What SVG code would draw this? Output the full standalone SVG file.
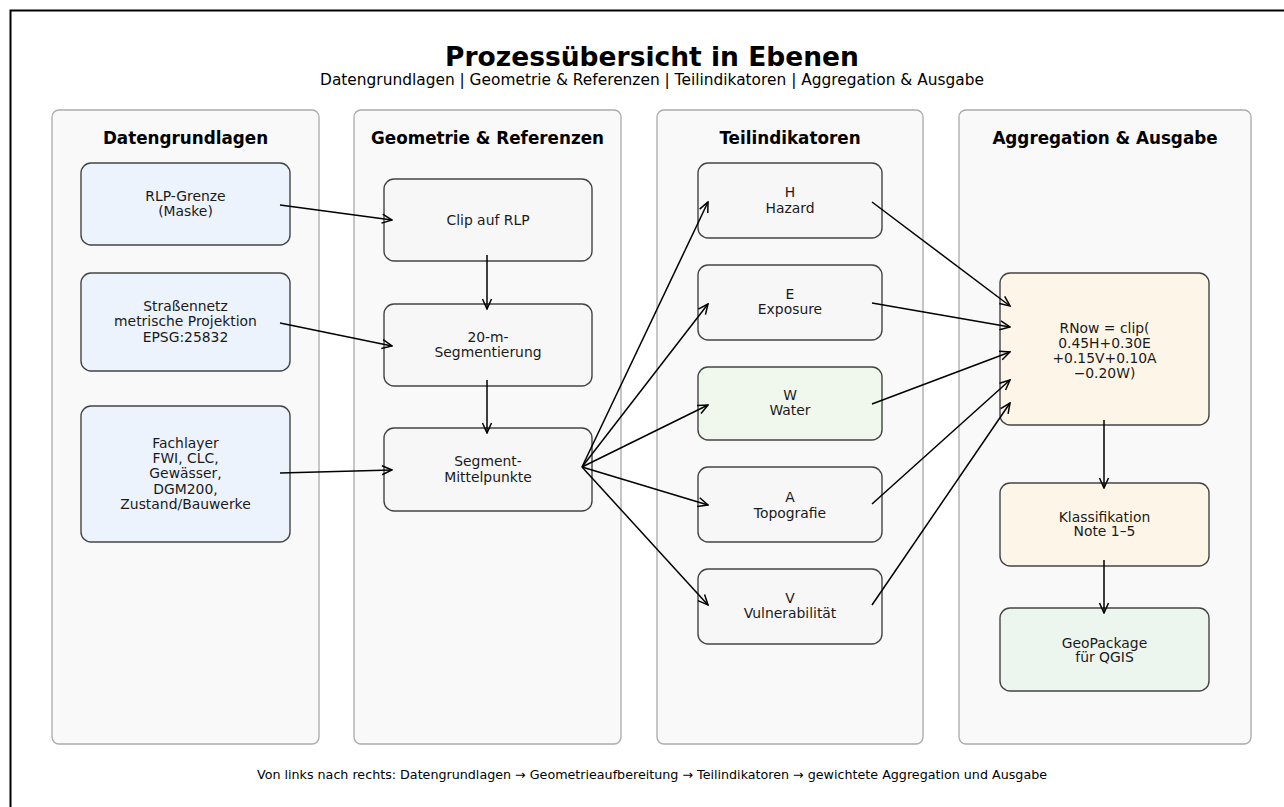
<svg xmlns="http://www.w3.org/2000/svg" width="1284" height="807" viewBox="0 0 1284 807">
<defs>
<style>
text{font-family:"DejaVu Sans","Liberation Sans",sans-serif;fill:#1a1a1a;text-anchor:middle}
.title{font-size:26.5px;font-weight:bold;fill:#000}
.sub{font-size:15.4px;fill:#000}
.foot{font-size:12.7px;fill:#000}
.ptitle{font-size:16.8px;font-weight:bold;fill:#000}
.panel{fill:#f9f9f9;stroke:#aaaaaa;stroke-width:1.3}
.node{stroke:#444;stroke-width:1.4}
.n{font-size:13.9px}
.blue{fill:#edf3fc}
.grey{fill:#f7f7f7}
.green{fill:#f0f8ee}
.cream{fill:#fdf6e8}
.green2{fill:#edf6ee}
.conn line{stroke:#000;stroke-width:1.5;marker-end:url(#ah)}
</style>
<marker id="ah" viewBox="0 0 12 12" refX="11" refY="6" markerWidth="12" markerHeight="12" markerUnits="userSpaceOnUse" orient="auto">
<path d="M1,1.5 L11,6 L1,10.5" fill="none" stroke="#000" stroke-width="1.5"/>
</marker>
</defs>
<rect x="0" y="0" width="1284" height="807" fill="#fff"/>
<path d="M10.5,807 L10.5,10.5 L1284,10.5" fill="none" stroke="#000" stroke-width="2"/>
<text class="title" x="652" y="65.5">Prozessübersicht in Ebenen</text>
<text class="sub" x="652" y="85">Datengrundlagen | Geometrie &amp; Referenzen | Teilindikatoren | Aggregation &amp; Ausgabe</text>

<g id="panel-daten"><rect class="panel" x="52" y="110" width="267" height="634" rx="7"/><text class="ptitle" x="185.5" y="144">Datengrundlagen</text></g>
<g id="panel-geom"><rect class="panel" x="354" y="110" width="267" height="634" rx="7"/><text class="ptitle" x="487.5" y="144">Geometrie &amp; Referenzen</text></g>
<g id="panel-teil"><rect class="panel" x="657" y="110" width="266" height="634" rx="7"/><text class="ptitle" x="790" y="144">Teilindikatoren</text></g>
<g id="panel-agg"><rect class="panel" x="959" y="110" width="292" height="634" rx="7"/><text class="ptitle" x="1105" y="144">Aggregation &amp; Ausgabe</text></g>

<g id="n-rlp"><rect class="node blue" x="81" y="163" width="209" height="82" rx="10"/><text class="n" x="185.5" y="201">RLP-Grenze</text><text class="n" x="185.5" y="216">(Maske)</text></g>
<g id="n-strasse"><rect class="node blue" x="81" y="273" width="209" height="98" rx="10"/><text class="n" x="185.5" y="311">Straßennetz</text><text class="n" x="185.5" y="326">metrische Projektion</text><text class="n" x="185.5" y="342">EPSG:25832</text></g>
<g id="n-fach"><rect class="node blue" x="81" y="406" width="209" height="136" rx="10"/><text class="n" x="185.5" y="448">Fachlayer</text><text class="n" x="185.5" y="463">FWI, CLC,</text><text class="n" x="185.5" y="478">Gewässer,</text><text class="n" x="185.5" y="494">DGM200,</text><text class="n" x="185.5" y="509">Zustand/Bauwerke</text></g>

<g id="n-clip"><rect class="node grey" x="384" y="179" width="208" height="82" rx="10"/><text class="n" x="488" y="225">Clip auf RLP</text></g>
<g id="n-seg"><rect class="node grey" x="384" y="304" width="208" height="82" rx="10"/><text class="n" x="488" y="342">20-m-</text><text class="n" x="488" y="357">Segmentierung</text></g>
<g id="n-mitte"><rect class="node grey" x="384" y="428" width="208" height="83" rx="10"/><text class="n" x="488" y="466">Segment-</text><text class="n" x="488" y="482">Mittelpunkte</text></g>

<g id="n-h"><rect class="node grey" x="698" y="163" width="184" height="75" rx="10"/><text class="n" x="790" y="197">H</text><text class="n" x="790" y="213">Hazard</text></g>
<g id="n-e"><rect class="node grey" x="698" y="265" width="184" height="75" rx="10"/><text class="n" x="790" y="299">E</text><text class="n" x="790" y="314">Exposure</text></g>
<g id="n-w"><rect class="node green" x="698" y="367" width="184" height="73" rx="10"/><text class="n" x="790" y="400">W</text><text class="n" x="790" y="415">Water</text></g>
<g id="n-a"><rect class="node grey" x="698" y="467" width="184" height="75" rx="10"/><text class="n" x="790" y="502">A</text><text class="n" x="790" y="518">Topografie</text></g>
<g id="n-v"><rect class="node grey" x="698" y="569" width="184" height="75" rx="10"/><text class="n" x="790" y="603">V</text><text class="n" x="790" y="618">Vulnerabilität</text></g>

<g id="n-rnow"><rect class="node cream" x="1000" y="273" width="209" height="152" rx="10"/><text class="n" x="1104.5" y="333">RNow = clip(</text><text class="n" x="1104.5" y="348">0.45H+0.30E</text><text class="n" x="1104.5" y="363">+0.15V+0.10A</text><text class="n" x="1104.5" y="378">−0.20W)</text></g>
<g id="n-klass"><rect class="node cream" x="1000" y="483" width="209" height="83" rx="10"/><text class="n" x="1104.5" y="522">Klassifikation</text><text class="n" x="1104.5" y="536">Note 1–5</text></g>
<g id="n-gpkg"><rect class="node green2" x="1000" y="608" width="209" height="83" rx="10"/><text class="n" x="1104.5" y="648">GeoPackage</text><text class="n" x="1104.5" y="662">für QGIS</text></g>

<g id="connectors" class="conn">
<line x1="280" y1="205" x2="392" y2="220"/>
<line x1="280" y1="323" x2="392" y2="346"/>
<line x1="280" y1="473" x2="392" y2="470"/>
<line x1="487" y1="255" x2="487" y2="309"/>
<line x1="487" y1="380" x2="487" y2="433"/>
<line x1="582" y1="467" x2="708" y2="202"/>
<line x1="582" y1="467" x2="708" y2="304"/>
<line x1="582" y1="467" x2="708" y2="405"/>
<line x1="582" y1="467" x2="708" y2="505"/>
<line x1="582" y1="467" x2="708" y2="605"/>
<line x1="872" y1="202" x2="1010" y2="306"/>
<line x1="872" y1="303" x2="1010" y2="327"/>
<line x1="872" y1="404" x2="1010" y2="352"/>
<line x1="872" y1="504" x2="1010" y2="380"/>
<line x1="872" y1="605" x2="1010" y2="403"/>
<line x1="1104" y1="420" x2="1104" y2="488"/>
<line x1="1104" y1="560" x2="1104" y2="613"/>
</g>

<text class="foot" x="652" y="779">Von links nach rechts: Datengrundlagen → Geometrieaufbereitung → Teilindikatoren → gewichtete Aggregation und Ausgabe</text>
</svg>
